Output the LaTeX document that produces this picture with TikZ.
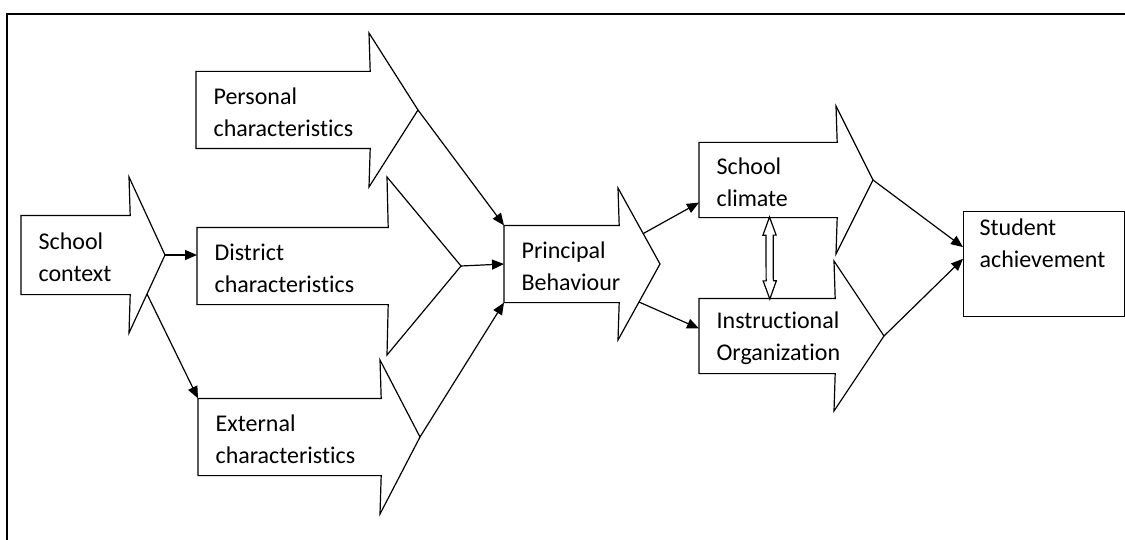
\documentclass[tikz,border=0pt]{standalone}
\usepackage{fontspec}
\setmainfont{Carlito}[Ligatures=NoCommon]
\usetikzlibrary{arrows.meta,shapes.arrows,positioning,calc}

\begin{document}
\begin{tikzpicture}[x=0.5pt,y=-0.5pt,line width=0.6pt,font=\fontsize{12}{16}\selectfont]
  \tikzstyle{shaft}=[rectangle,inner sep=0pt,anchor=west]
  \tikzstyle{txt}=[align=left,inner sep=0pt]
  \tikzstyle{link}=[-{Triangle[length=6pt,width=5pt]}]
  \tikzstyle{swap}=[double arrow,draw,fill=white,inner sep=1.5pt,minimum width=6pt,
    minimum height=41pt,double arrow head extend=1.5pt,double arrow tip angle=40]

  \useasboundingbox (0,0) rectangle (1125,540);
  \draw (7,540) -- (7,14) -- (1125,14);

  % block arrows: name / left / middle / head base / shaft half / head half / tip / text
  \foreach \name/\x/\y/\b/\sh/\hh/\t/\lines in {
      ctx/21/255/129/39/78/165/{School\\context},
      pers/196/110/369/38/77/418/{Personal\\characteristics},
      dist/197/266/387/38/89/461/{District\\characteristics},
      ext/198/437/380/38/77/420/{External\\characteristics},
      prin/504/264/618/38/76/660/{Principal\\Behaviour},
      clim/699/180/836/37/74/873/{School\\climate},
      inst/699/336/834/37/75/884/{Instructional\\Organization}}
  {
    \node[shaft,minimum width={(\b-\x)*0.5pt},minimum height={\sh*1pt}] (\name) at (\x,\y) {};
    \coordinate (\name-tip) at (\t,\y);
    \coordinate (\name-hu) at (\b,\y-\hh);
    \coordinate (\name-hl) at (\b,\y+\hh);
    \draw (\name.north west) -- (\name.north east) -- (\name-hu) -- (\name-tip)
      -- (\name-hl) -- (\name.south east) -- (\name.south west) -- cycle;
    \node[txt,right=8.5pt of \name.west,yshift=-1pt] (\name-txt) {\lines};
  }

  \node[draw,rectangle,inner sep=0pt,minimum width=80.5pt,minimum height=52.5pt,
    anchor=north west] (stud) at (963,211) {};
  \node[txt,anchor=north west] (stud-txt) at ([xshift=8pt,yshift=-3.5pt]stud.north west)
    {Student\\achievement};

  % influences
  \draw[link] (ctx-tip) -- (ctx-tip -| dist.west);
  \draw[link] ($(ctx-tip)!0.5!(ctx-hl)$) -- (ext.north west);
  \draw[link] (pers-tip) -- (prin.north west);
  \draw[link] (dist-tip) -- (prin.west);
  \draw[link] (ext-tip) -- (prin.south west);
  \draw[link] ($(prin-hu)!0.6!(prin-tip)$) -- ($(clim.west)!0.6!(clim.south west)$);
  \draw[link] ($(prin-tip)!0.5!(prin-hl)$) -- ($(inst.west)!0.2!(inst.north west)$);
  \draw[link] (clim-tip) -- ($(stud.west)!0.32!(stud.north west)$);
  \draw[link] (inst-tip) -- ($(stud.west)!0.1!(stud.north west)$);
  \path ($(clim.south west)!0.51!(clim.south east)$) -- ($(inst.north west)!0.52!(inst.north east)$)
    node[swap,midway,sloped] (clim-inst) {};
\end{tikzpicture}
\end{document}
